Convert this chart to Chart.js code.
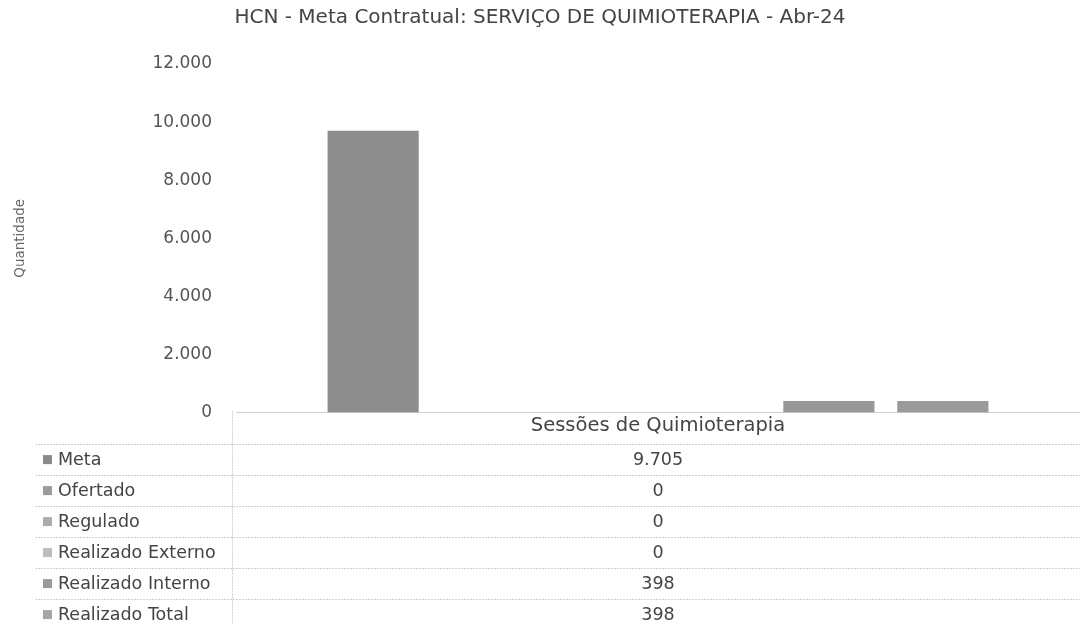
<!DOCTYPE html>
<html>
<head>
<meta charset="utf-8">
<script src="https://cdn.jsdelivr.net/npm/chart.js@4.4.1/dist/chart.umd.min.js"></script>
<style>
  html, body { margin: 0; padding: 0; background: #fff; }
  #wrap { width: 1080px; height: 624px; }
</style>
</head>
<body>
<div id="wrap"><canvas id="myChart" width="1080" height="624"></canvas></div>
<script>
// data
var categories = ['Sessões de Quimioterapia'];
var seriesNames = ['Meta', 'Ofertado', 'Regulado', 'Realizado Externo', 'Realizado Interno', 'Realizado Total'];
var meta = [9705];
var ofertado = [0];
var regulado = [0];
var realizadoExterno = [0];
var realizadoInterno = [398];
var realizadoTotal = [398];
var yTicks = [0, 2000, 4000, 6000, 8000, 10000, 12000];

var seriesValues = [meta, ofertado, regulado, realizadoExterno, realizadoInterno, realizadoTotal];
var barColors = ['#8e8e8e', '#9a9a9a', '#a8a8a8', '#b8b8b8', '#979797', '#9a9a9a'];
var swatchColors = ['#8a8a8a', '#9c9c9c', '#ababab', '#bdbdbd', '#9a9a9a', '#a6a6a6'];

function fmt(n) {
    return String(n).replace(/\B(?=(\d{3})+(?!\d))/g, '.');
}

var FONT = "'DejaVu Sans', 'Liberation Sans', Arial, sans-serif";

// draws the Excel-like data table below the plot
var dataTable = {
    id: 'dataTable',
    afterDraw: function (chart) {
        var ctx = chart.ctx;
        var area = chart.chartArea;
        var xs = chart.scales.x;
        var base = area.bottom;
        var rowH = 31;
        var headerBottom = base + 31;
        var colX = 232;
        ctx.save();
        ctx.strokeStyle = '#cfcfcf';
        ctx.lineWidth = 1;
        ctx.setLineDash([2, 1]);
        // vertical divider
        ctx.beginPath();
        ctx.moveTo(colX + 0.5, base - 2);
        ctx.lineTo(colX + 0.5, 624);
        ctx.stroke();
        // header bottom line
        ctx.beginPath();
        ctx.moveTo(35, Math.round(headerBottom) + 0.5);
        ctx.lineTo(1080, Math.round(headerBottom) + 0.5);
        ctx.stroke();
        for (var i = 0; i < seriesNames.length; i++) {
            var y = headerBottom + rowH * (i + 1);
            ctx.beginPath();
            ctx.moveTo(35, Math.round(y) + 0.5);
            ctx.lineTo(1080, Math.round(y) + 0.5);
            ctx.stroke();
        }
        ctx.setLineDash([]);
        ctx.textBaseline = 'middle';
        ctx.font = '17.5px ' + FONT;
        for (var j = 0; j < seriesNames.length; j++) {
            var cy = headerBottom + rowH * j + rowH / 2;
            ctx.fillStyle = swatchColors[j];
            ctx.fillRect(43, cy - 4, 9, 9);
            ctx.fillStyle = '#444';
            ctx.textAlign = 'left';
            ctx.fillText(seriesNames[j], 58, cy + 1);
            for (var c = 0; c < categories.length; c++) {
                ctx.textAlign = 'center';
                ctx.fillText(fmt(seriesValues[j][c]), xs.getPixelForValue(c), cy + 1);
            }
        }
        ctx.restore();
    }
};

var ctx = document.getElementById('myChart').getContext('2d');
var datasets = seriesNames.map(function (name, i) {
    return {
        label: name,
        data: seriesValues[i],
        backgroundColor: barColors[i],
        barPercentage: 0.8,
        categoryPercentage: 0.81
    };
});

var myChart = new Chart(ctx, {
    type: 'bar',
    data: { labels: categories, datasets: datasets },
    options: {
        responsive: false,
        animation: false,
        layout: { padding: { top: 0, right: 0, bottom: 184, left: 0 } },
        plugins: {
            legend: { display: false },
            tooltip: { enabled: false },
            title: {
                display: true,
                text: 'HCN - Meta Contratual: SERVIÇO DE QUIMIOTERAPIA - Abr-24',
                color: '#444',
                font: { family: FONT, size: 20, weight: 'normal' },
                padding: { top: 6, bottom: 34 }
            }
        },
        scales: {
            x: {
                grid: { display: false, drawTicks: false },
                border: { display: true, color: '#cfcfcf', dash: [2, 1] },
                ticks: {
                    color: '#444',
                    font: { family: FONT, size: 19.5 },
                    padding: 2
                }
            },
            y: {
                min: 0,
                max: 12000,
                afterBuildTicks: function (scale) {
                    scale.ticks = yTicks.map(function (v) { return { value: v }; });
                },
                afterFit: function (scale) { scale.width = 236; },
                grid: { display: false, drawTicks: false },
                border: { display: false },
                ticks: {
                    color: '#555',
                    font: { family: FONT, size: 17 },
                    padding: 24,
                    callback: function (v) { return fmt(v); }
                },
                title: {
                    display: true,
                    text: 'Quantidade',
                    color: '#666',
                    font: { family: FONT, size: 13.5 },
                    padding: 12
                }
            }
        }
    },
    plugins: [dataTable]
});
</script>
</body>
</html>
